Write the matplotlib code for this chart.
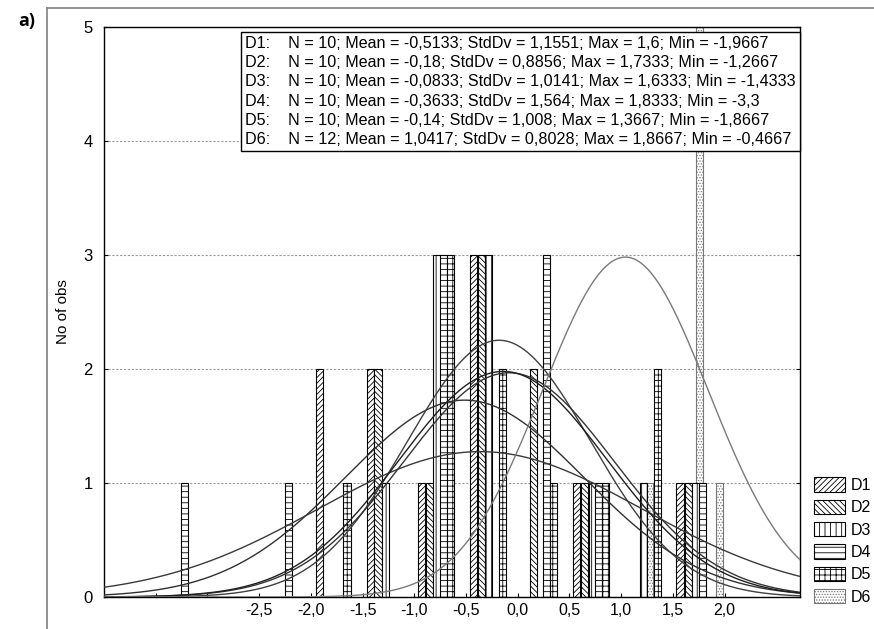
import numpy as np
import matplotlib.pyplot as plt
from matplotlib.patches import Patch
from matplotlib.lines import Line2D


# -----------------------------
# Data
# -----------------------------

labels = ["D1", "D2", "D3", "D4", "D5", "D6"]

# bar centres on the value axis and their counts
d1_x = [-1.92, -1.42, -0.93, -0.43, 0.57, 1.57]
d1_n = [2, 2, 1, 3, 1, 1]
d2_x = [-1.35, -0.85, -0.35, 0.15, 0.65, 1.65]
d2_n = [2, 1, 3, 2, 1, 1]
d3_x = [-1.28, -0.78, -0.28, 0.72, 1.22, 1.72]
d3_n = [1, 3, 3, 1, 1, 1]
d4_x = [-3.22, -2.22, -0.72, 0.28, 0.78, 1.79]
d4_n = [1, 1, 3, 3, 1, 1]
d5_x = [-1.65, -0.65, -0.15, 0.35, 0.85, 1.35]
d5_n = [1, 3, 2, 1, 1, 2]
d6_x = [1.27, 1.755, 1.95]
d6_n = [1, 5, 1]

# summary statistics from the box
obs_n = [10, 10, 10, 10, 10, 12]
means = [-0.5133, -0.18, -0.0833, -0.3633, -0.14, 1.0417]
stddevs = [1.1551, 0.8856, 1.0141, 1.564, 1.008, 0.8028]
maxima = [1.6, 1.7333, 1.6333, 1.8333, 1.3667, 1.8667]
minima = [-1.9667, -1.2667, -1.4333, -3.3, -1.8667, -0.4667]

bin_width = 0.5

bar_x = [d1_x, d2_x, d3_x, d4_x, d5_x, d6_x]
bar_n = [d1_n, d2_n, d3_n, d4_n, d5_n, d6_n]


# -----------------------------
# Style
# -----------------------------

plt.rcParams['font.family'] = ['Liberation Sans', 'DejaVu Sans']
plt.rcParams['hatch.linewidth'] = 0.6

hatches = ["//////", "\\\\\\\\\\\\", "|||", "---", "+++", "......"]
edge_colors = ["black", "black", "black", "black", "black", "#777777"]
curve_colors = ["#303030", "#404040", "#353535", "#3a3a3a", "#202020", "#7a7a7a"]


def comma(v):
    return str(v).replace('.', ',')


# -----------------------------
# Figure
# -----------------------------

fig = plt.figure(figsize=(8.74, 6.29), dpi=100)
ax = fig.add_axes([104 / 874, 32 / 629, 696 / 874, 570 / 629])

# outer light frame and panel letter
fig.add_artist(Line2D([47 / 874, 47 / 874], [0, 1 - 8 / 629],
                      transform=fig.transFigure, color="#8a8a8a", lw=1.3))
fig.add_artist(Line2D([47 / 874, 1], [1 - 8 / 629, 1 - 8 / 629],
                      transform=fig.transFigure, color="#8a8a8a", lw=1.3))
fig.text(18 / 874, 1 - 21 / 629, "a)", fontsize=13, fontweight="bold",
         family="Open Sans", va="center", ha="left")

# bars
bar_w = bin_width * 0.83 / 6
for i in range(6):
    ax.bar(bar_x[i], bar_n[i], width=bar_w, facecolor="white",
           edgecolor=edge_colors[i], hatch=hatches[i], linewidth=0.8,
           zorder=2 if i != 5 else 1.5)

# fitted normal curves
xs = np.linspace(-4.0, 2.75, 400)
for i in range(6):
    ys = obs_n[i] * bin_width * np.exp(-0.5 * ((xs - means[i]) / stddevs[i]) ** 2) \
        / (stddevs[i] * np.sqrt(2 * np.pi))
    ax.plot(xs, ys, color=curve_colors[i], lw=1.0, zorder=3)

ax.set_xlim(-4.0, 2.73)
ax.set_ylim(0, 5)

xt = np.arange(-3.5, 2.01, 0.5)
ax.set_xticks(xt)
ax.set_xticklabels(["" if v < -2.6 else comma(round(v, 1)) for v in xt])
ax.set_yticks(range(6))
ax.set_yticklabels([str(v) for v in range(6)])
ax.tick_params(axis="both", direction="in", length=3, width=0.8,
               labelsize=11.5, colors="black")
ax.tick_params(axis="y", right=True, pad=8, labelsize=12)
ax.tick_params(axis="x", pad=4)

ax.yaxis.grid(True, linestyle=(0, (2, 1.5)), color="#9a9a9a", lw=0.8)
ax.set_axisbelow(True)
for s in ax.spines.values():
    s.set_linewidth(1.0)

ax.set_ylabel("No of obs", fontsize=11, labelpad=10)

# statistics box
lines = []
for i in range(6):
    lines.append(f"{labels[i]}:    N = {obs_n[i]}; Mean = {comma(means[i])}; "
                 f"StdDv = {comma(stddevs[i])}; Max = {comma(maxima[i])}; "
                 f"Min = {comma(minima[i])}")
ax.text(0.203, 0.985, "\n".join(lines), transform=ax.transAxes,
        ha="left", va="top", fontsize=11.6, linespacing=1.36, zorder=5,
        bbox=dict(boxstyle="square,pad=0.25", facecolor="white",
                  edgecolor="black", lw=1.0))

# legend
handles = [Patch(facecolor="white", edgecolor=edge_colors[i],
                 hatch=hatches[i], lw=0.8) for i in range(6)]
fig.legend(handles, labels, loc="lower left",
           bbox_to_anchor=(808 / 874, 18 / 629), frameon=False,
           fontsize=11.5, handlelength=1.9, handleheight=1.0,
           labelspacing=0.42, handletextpad=0.35, borderaxespad=0)

fig.savefig("out.png", dpi=100)
